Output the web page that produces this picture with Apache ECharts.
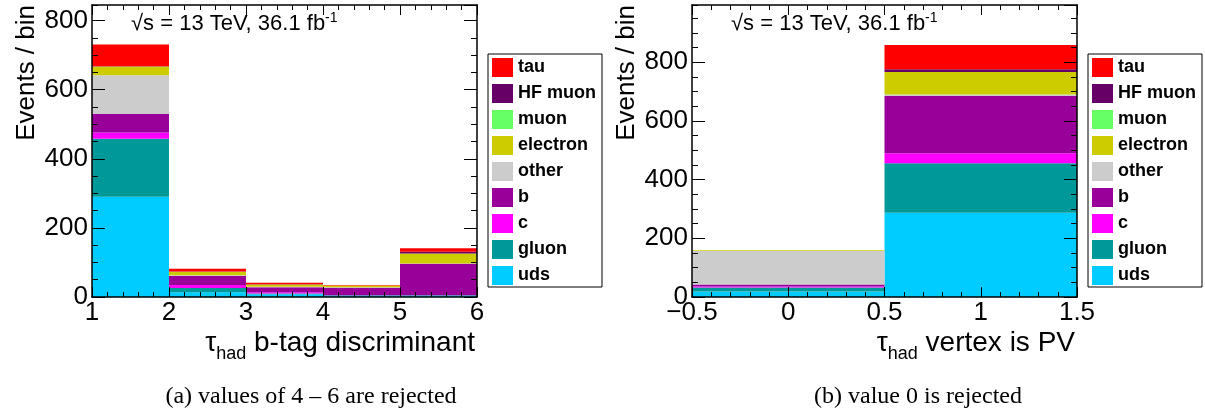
<!DOCTYPE html>
<html><head><meta charset="utf-8">
<script src="https://cdn.jsdelivr.net/npm/echarts@6/dist/echarts.min.js"></script>
<style>html,body{margin:0;padding:0;background:#fff}#c{width:1205px;height:416px}</style>
</head><body><div id="c"></div>
<script>
// ---- data ----
const components = ['uds','gluon','c','b','other','electron','muon','HF muon','tau']; // stacking order, bottom -> top
const legendOrder = ['tau','HF muon','muon','electron','other','b','c','gluon','uds'];

// (a) tau_had b-tag discriminant, bins 1-2,2-3,3-4,4-5,5-6
const edgesA = [1, 2, 3, 4, 5, 6];
const udsA      = [290, 14, 8, 3, 3];
const gluonA    = [168, 12, 2, 2, 2];
const cA        = [18, 9, 4, 1, 1];
const bA        = [54, 26, 14, 21, 90];
const otherA    = [112, 2, 2, 1, 1];
const electronA = [25, 10, 6, 5, 29];
const muonA     = [0, 0, 0, 0, 0];
const hfmuonA   = [1, 1, 1, 0, 5];
const tauA      = [63, 8, 4, 2, 10];

// (b) tau_had vertex is PV, bins -0.5-0.5, 0.5-1.5
const edgesB = [-0.5, 0.5, 1.5];
const udsB      = [19, 287];
const gluonB    = [13, 169];
const cB        = [4, 34];
const bB        = [7, 195];
const otherB    = [114, 5];
const electronB = [2, 77];
const muonB     = [0, 0];
const hfmuonB   = [0, 9];
const tauB      = [0, 83];

// ---- styles ----
const colors = {
  'tau':'#ff0000','HF muon':'#660066','muon':'#66ff66','electron':'#cccc00','other':'#cccccc',
  'b':'#990099','c':'#ff00ff','gluon':'#009999','uds':'#00ccff'
};
const FONT = '"Liberation Sans", Arial, Helvetica, sans-serif';
const SERIF = '"Liberation Serif", "Times New Roman", serif';

const valuesA = {'uds':udsA,'gluon':gluonA,'c':cA,'b':bA,'other':otherA,'electron':electronA,'muon':muonA,'HF muon':hfmuonA,'tau':tauA};
const valuesB = {'uds':udsB,'gluon':gluonB,'c':cB,'b':bB,'other':otherB,'electron':electronB,'muon':muonB,'HF muon':hfmuonB,'tau':tauB};

function stackRows(edges, vals) {
  const base = new Array(edges.length - 1).fill(0);
  return components.map(name => {
    const rows = vals[name].map((v, j) => {
      const r = [edges[j], edges[j + 1], base[j], base[j] + v];
      base[j] += v;
      return r;
    });
    return { name, rows };
  });
}

function renderItem(params, api) {
  const p0 = api.coord([api.value(0), api.value(3)]);
  const p1 = api.coord([api.value(1), api.value(2)]);
  return {
    type: 'rect',
    shape: { x: p0[0], y: p0[1], width: p1[0] - p0[0], height: p1[1] - p0[1] },
    style: { fill: api.visual('color') }
  };
}

function makeSeries(stacks, xi, yi) {
  return stacks.map(s => ({
    type: 'custom', name: s.name, xAxisIndex: xi, yAxisIndex: yi,
    data: s.rows, encode: { x: [0, 1], y: [2, 3] },
    itemStyle: { color: colors[s.name] }, renderItem, clip: true, silent: true, z: 2
  }));
}

const axisLine = { show: true, onZero: false, lineStyle: { color: '#000', width: 1.5 } };

function xAxes(grid, min, max, interval, title) {
  const common = {
    type: 'value', gridIndex: grid, min, max, interval, z: 10,
    axisLine, splitLine: { show: false },
    axisTick: { show: true, inside: true, length: 10, lineStyle: { color: '#000' } },
    minorTick: { show: true, splitNumber: 5, length: 5, lineStyle: { color: '#000' } },
    minorSplitLine: { show: false }
  };
  return [
    Object.assign({}, common, {
      position: 'bottom',
      axisLabel: { show: true, margin: 3, fontSize: 26, fontFamily: FONT, color: '#000',
        formatter: v => String(v).replace('-', '\u2212') },
      name: title, nameLocation: 'end', nameGap: 0, nameMoveOverlap: false,
      nameTextStyle: {
        align: 'right', verticalAlign: 'top', padding: [26, 2, 0, 0],
        rich: {
          t: { fontSize: 28, fontFamily: FONT, color: '#000' },
          s: { fontSize: 18, fontFamily: FONT, color: '#000', verticalAlign: 'bottom', padding: [22, 0, 0, 0] }
        }
      }
    }),
    Object.assign({}, common, { position: 'top', axisLabel: { show: false } })
  ];
}

function yAxes(grid, max) {
  const major = {
    type: 'value', gridIndex: grid, min: 0, max, interval: 200, z: 10,
    axisLine, splitLine: { show: false },
    axisTick: { show: true, inside: true, length: 13, lineStyle: { color: '#000' } }
  };
  const minor = {
    type: 'value', gridIndex: grid, min: 0, max, interval: 50, z: 10,
    axisLine: { show: false, onZero: false }, splitLine: { show: false }, axisLabel: { show: false },
    axisTick: { show: true, inside: true, length: 6, lineStyle: { color: '#000' } }
  };
  return [
    Object.assign({}, major, {
      position: 'left',
      axisLabel: { show: true, margin: 4, fontSize: 26, fontFamily: FONT, color: '#000', showMaxLabel: false },
      name: 'Events / bin', nameLocation: 'end', nameRotate: 90, nameGap: 0, nameMoveOverlap: false,
      nameTextStyle: { fontSize: 26, fontFamily: FONT, color: '#000', align: 'right', verticalAlign: 'bottom', padding: [0, 0, 52, 0] }
    }),
    Object.assign({}, major, { position: 'right', axisLabel: { show: false } }),
    Object.assign({}, minor, { position: 'left' }),
    Object.assign({}, minor, { position: 'right' })
  ];
}

function legend(left) {
  return {
    data: legendOrder, left, top: 54, orient: 'vertical',
    icon: 'rect', itemWidth: 21, itemHeight: 19, itemGap: 7,
    padding: [4, 6, 2, 4], borderColor: '#000', borderWidth: 1, backgroundColor: '#fff',
    selectedMode: false,
    textStyle: { fontFamily: FONT, fontWeight: 'bold', fontSize: 18, color: '#000' }
  };
}

function lumiText(x) {
  return {
    type: 'text', x, y: 11, z: 20,
    style: {
      text: '{a|\u221As = 13 TeV, 36.1 fb}{s|-1}',
      rich: {
        a: { fontFamily: FONT, fontSize: 22, fill: '#000', lineHeight: 26 },
        s: { fontFamily: FONT, fontSize: 14, fill: '#000', verticalAlign: 'top', lineHeight: 14 }
      }
    }
  };
}

const chart = echarts.init(document.getElementById('c'), null, { renderer: 'canvas' });
chart.setOption({
  animation: false,
  backgroundColor: '#fff',
  grid: [
    { left: 92, top: 5, width: 385, height: 292, containLabel: false, outerBoundsMode: 'none' },
    { left: 692, top: 5, width: 385, height: 292, containLabel: false, outerBoundsMode: 'none' }
  ],
  xAxis: [].concat(
    xAxes(0, 1, 6, 1, '{t|\u03C4}{s|had}{t| b-tag discriminant}'),
    xAxes(1, -0.5, 1.5, 0.5, '{t|\u03C4}{s|had}{t| vertex is PV}')
  ),
  yAxis: [].concat(yAxes(0, 845), yAxes(1, 995)),
  legend: [legend(488), legend(1088)],
  series: [].concat(
    makeSeries(stackRows(edgesA, valuesA), 0, 0),
    makeSeries(stackRows(edgesB, valuesB), 2, 4)
  ),
  graphic: [
    lumiText(131), lumiText(731),
    { type: 'text', x: 311, y: 397, style: { text: '(a) values of 4 \u2013 6 are rejected', fontFamily: SERIF, fontSize: 24, fill: '#000', align: 'center', verticalAlign: 'middle' } },
    { type: 'text', x: 918, y: 397, style: { text: '(b) value 0 is rejected', fontFamily: SERIF, fontSize: 24, fill: '#000', align: 'center', verticalAlign: 'middle' } }
  ]
});
</script>
</body></html>
